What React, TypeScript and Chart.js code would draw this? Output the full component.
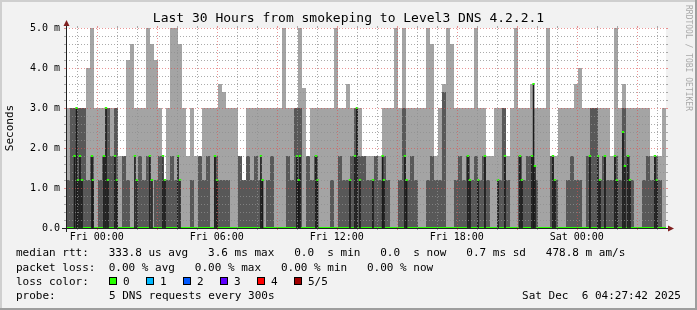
import React, { useEffect, useRef } from "react";
import { Chart, registerables } from "chart.js";
Chart.register(...registerables);

const W = 697;
const H = 310;
// hours relative to Fri 00:00; graph covers Thu 22:27:42 .. Sat 04:27:42
const START_H = -(1 + 32 / 60 + 18 / 3600);
const SPAN_H = 30;
const STEP_H = 0.2; // 12 minutes per smoke column, 150 columns

// max ping (outer smoke top), ms
const smokeMax = [
  3.0, 3.0, 3.0, 3.0, 3.0, 4.0, 5.2, 3.0, 3.0, 3.0,
  3.0, 3.0, 3.0, 1.8, 1.8, 4.2, 4.6, 3.0, 3.0, 3.0,
  5.2, 4.6, 4.2, 3.0, 1.2, 3.0, 5.2, 5.2, 4.6, 3.0,
  1.8, 3.0, 1.8, 1.8, 3.0, 3.0, 3.0, 3.0, 3.6, 3.4,
  3.0, 3.0, 3.0, 1.8, 1.2, 3.0, 3.0, 3.0, 3.0, 3.0,
  3.0, 3.0, 3.0, 3.0, 5.2, 3.0, 3.0, 3.0, 5.2, 3.5,
  1.8, 3.0, 3.0, 3.0, 3.0, 3.0, 3.0, 5.2, 3.0, 3.0,
  3.6, 3.0, 3.0, 3.0, 1.8, 1.8, 1.8, 1.8, 1.8, 3.0,
  3.0, 3.0, 5.2, 3.0, 5.2, 3.0, 3.0, 3.0, 3.0, 3.0,
  5.2, 4.6, 1.8, 3.0, 3.6, 5.2, 4.6, 3.0, 3.0, 3.0,
  3.0, 3.0, 5.2, 3.0, 3.0, 1.8, 1.8, 3.0, 3.0, 3.0,
  1.8, 3.0, 5.2, 3.0, 3.0, 3.0, 3.6, 3.0, 3.0, 3.0,
  5.2, 1.8, 1.8, 3.0, 3.0, 3.0, 3.0, 3.6, 4.0, 3.0,
  3.0, 3.0, 3.0, 3.0, 3.0, 3.0, 1.8, 5.2, 3.0, 3.6,
  3.0, 3.0, 3.0, 3.0, 3.0, 3.0, 1.8, 1.8, 1.8, 3.0,
];
// 4th ping (inner smoke top), ms
const smokeUpper = [
  1.2, 3.0, 3.0, 3.0, 3.0, 1.2, 1.8, 0.0, 1.2, 1.8,
  3.0, 1.8, 3.0, 0.0, 1.8, 1.2, 0.0, 0.0, 1.8, 1.2,
  1.8, 0.0, 1.2, 1.8, 1.2, 1.2, 1.8, 1.2, 0.0, 0.0,
  0.0, 1.2, 0.0, 1.8, 1.2, 1.8, 0.0, 1.8, 1.2, 1.2,
  1.2, 0.0, 0.0, 1.8, 1.2, 1.8, 1.2, 1.8, 1.2, 0.0,
  1.2, 1.8, 0.0, 0.0, 0.0, 1.8, 1.2, 3.0, 3.0, 0.0,
  1.8, 1.2, 1.8, 0.0, 0.0, 0.0, 1.2, 0.0, 1.8, 1.2,
  1.2, 1.8, 3.0, 1.8, 1.8, 1.2, 1.2, 1.8, 1.2, 1.8,
  1.2, 0.0, 0.0, 1.2, 3.0, 1.2, 1.8, 1.2, 0.0, 0.0,
  1.2, 1.8, 1.2, 1.2, 3.4, 0.0, 0.0, 1.2, 1.8, 1.2,
  1.8, 1.2, 1.8, 1.2, 1.8, 1.2, 0.0, 0.0, 1.2, 3.0,
  1.2, 0.0, 0.0, 1.8, 1.2, 1.8, 1.8, 1.2, 0.0, 0.0,
  0.0, 1.8, 1.2, 0.0, 0.0, 1.2, 1.8, 1.2, 1.2, 0.0,
  1.8, 3.0, 3.0, 1.2, 1.8, 1.2, 1.2, 1.8, 1.2, 3.0,
  1.8, 1.2, 0.0, 0.0, 1.2, 1.8, 1.2, 1.8, 1.2, 0.0,
];
// non-zero median readings: time (hours from Fri 00:00) and median (ms); median is 0 otherwise
const medianTimes = [
  -1.11, -1.01, -0.94, -0.84, -0.74, -0.24, -0.19, 0.36, 0.46, 0.56,
  0.91, 1.01, 1.91, 2.01, 2.66, 2.76, 3.31, 3.41, 4.06, 4.16,
  5.91, 6.01, 8.21, 8.29, 10.01, 10.09, 10.16, 10.96, 11.04, 12.66,
  12.91, 13.01, 13.16, 13.81, 14.29, 14.36, 15.41, 15.49, 18.56, 18.66,
  19.06, 19.41, 20.06, 20.41, 21.16, 21.26, 21.76, 21.84, 21.91, 22.81,
  22.91, 24.66, 25.06, 25.16, 25.41, 25.91, 26.01, 26.31, 26.41, 26.56,
  26.66, 27.91, 28.01,
];
const medianValues = [
  1.8, 3.0, 1.2, 1.8, 1.2, 1.8, 1.2, 1.8, 3.0, 1.2,
  1.8, 1.2, 1.8, 1.2, 1.8, 1.2, 1.8, 1.2, 1.8, 1.2,
  1.8, 1.2, 1.8, 1.2, 1.8, 1.2, 1.8, 1.8, 1.2, 1.2,
  1.8, 3.0, 1.2, 1.2, 1.8, 1.2, 1.8, 1.2, 1.8, 1.2,
  1.2, 1.8, 1.2, 1.8, 1.8, 1.2, 1.8, 3.6, 1.55, 1.8,
  1.2, 1.8, 1.8, 1.2, 1.8, 1.8, 1.2, 2.4, 1.55, 1.8,
  1.2, 1.8, 1.2,
];
const medianZero = [0, 0]; // median at window start and end

const yTickValues = [0, 1, 2, 3, 4, 5];
const yTickLabels = ["0.0", "1.0 m", "2.0 m", "3.0 m", "4.0 m", "5.0 m"];
const xTickHours = [0, 6, 12, 18, 24];
const xTickLabels = ["Fri 00:00", "Fri 06:00", "Fri 12:00", "Fri 18:00", "Sat 00:00"];

const titleText = "Last 30 Hours from smokeping to Level3 DNS 4.2.2.1";
const legendMedian = "median rtt:   333.8 us avg   3.6 ms max   0.0  s min   0.0  s now   0.7 ms sd   478.8 m am/s";
const legendLoss = "packet loss:  0.00 % avg   0.00 % max   0.00 % min   0.00 % now";
const lossLabels = ["0", "1", "2", "3", "4", "5/5"];
const lossColors = ["#26ff00", "#00b8ff", "#0059ff", "#5e00ff", "#ff0000", "#a00000"];
const probeText = "5 DNS requests every 300s";
const stampText = "Sat Dec  6 04:27:42 2025";

const MONO = "'DejaVu Sans Mono', monospace";

const rrdPlugin = {
  id: "rrdFrame",
  beforeDraw(chart: any) {
    const { ctx, chartArea: a } = chart;
    ctx.save();
    ctx.fillStyle = "#f2f2f2";
    ctx.fillRect(0, 0, W, H);
    ctx.fillStyle = "#cfcfcf";
    ctx.fillRect(0, 0, W, 2);
    ctx.fillRect(0, 0, 2, H);
    ctx.fillStyle = "#9e9e9e";
    ctx.fillRect(0, H - 2, W, 2);
    ctx.fillRect(W - 2, 0, 2, H);
    ctx.fillStyle = "#ffffff";
    ctx.fillRect(a.left, a.top, a.right - a.left, a.bottom - a.top);
    ctx.restore();
  },
  afterDatasetsDraw(chart: any) {
    const { ctx, chartArea: a, scales } = chart;
    const xs = scales.x;
    const ys = scales.y;
    const minor = "rgba(143,143,143,0.75)";
    const major = "rgba(222,79,79,0.6)";
    ctx.save();
    ctx.lineWidth = 1;
    const vline = (px: number, col: string) => {
      const x = Math.round(px) + 0.5;
      ctx.strokeStyle = col;
      ctx.setLineDash([]);
      ctx.beginPath();
      ctx.moveTo(x, a.top - 2);
      ctx.lineTo(x, a.top);
      ctx.moveTo(x, a.bottom);
      ctx.lineTo(x, a.bottom + 2);
      ctx.stroke();
      ctx.setLineDash([1, 2]);
      ctx.beginPath();
      ctx.moveTo(x, a.bottom);
      ctx.lineTo(x, a.top);
      ctx.stroke();
    };
    const hline = (py: number, col: string) => {
      const y = Math.round(py) + 0.5;
      ctx.strokeStyle = col;
      ctx.setLineDash([]);
      ctx.beginPath();
      ctx.moveTo(a.left - 2, y);
      ctx.lineTo(a.left, y);
      ctx.moveTo(a.right, y);
      ctx.lineTo(a.right + 2, y);
      ctx.stroke();
      ctx.setLineDash([1, 2]);
      ctx.beginPath();
      ctx.moveTo(a.left, y);
      ctx.lineTo(a.right, y);
      ctx.stroke();
    };
    for (let h = Math.ceil(START_H); h <= START_H + SPAN_H; h++) {
      vline(xs.getPixelForValue(h), h % 3 === 0 ? major : minor);
    }
    for (let k = 1; k <= 25; k++) {
      const v = k * 0.2;
      hline(ys.getPixelForValue(v), k % 5 === 0 ? major : minor);
    }
    // axes
    ctx.setLineDash([]);
    ctx.strokeStyle = "#1f1f1f";
    ctx.beginPath();
    ctx.moveTo(a.left - 4, a.bottom + 0.5);
    ctx.lineTo(a.right + 4, a.bottom + 0.5);
    ctx.moveTo(a.left + 0.5, a.bottom + 4);
    ctx.lineTo(a.left + 0.5, a.top - 4);
    ctx.stroke();
    ctx.fillStyle = "#801f1f";
    ctx.beginPath();
    ctx.moveTo(a.right + 2, a.bottom - 2.5);
    ctx.lineTo(a.right + 2, a.bottom + 3.5);
    ctx.lineTo(a.right + 8, a.bottom + 0.5);
    ctx.closePath();
    ctx.fill();
    ctx.beginPath();
    ctx.moveTo(a.left - 2.5, a.top - 2);
    ctx.lineTo(a.left + 3.5, a.top - 2);
    ctx.lineTo(a.left + 0.5, a.top - 8);
    ctx.closePath();
    ctx.fill();
    ctx.restore();
  },
};

function Txt(props: { x: number; y: number; text: string; right?: boolean }) {
  const style: any = {
    position: "absolute",
    top: props.y,
    whiteSpace: "pre",
    font: `11px ${MONO}`,
    lineHeight: "13px",
    color: "#000",
  };
  if (props.right) style.right = W - props.x;
  else style.left = props.x;
  return <div style={style}>{props.text}</div>;
}

export default function App() {
  const ref = useRef<HTMLCanvasElement | null>(null);
  useEffect(() => {
    const cols = smokeMax.map((_, i) => START_H + (i + 0.5) * STEP_H);
    const barBase = {
      type: "bar",
      grouped: false,
      barPercentage: 1,
      categoryPercentage: 1,
      inflateAmount: 0,
      borderWidth: 0,
      xAxisID: "x",
    };
    const chart = new Chart(ref.current as HTMLCanvasElement, {
      type: "bar",
      data: {
        datasets: [
          {
            ...barBase,
            label: "outer smoke",
            data: cols.map((x, i) => ({ x, y: smokeMax[i] })),
            backgroundColor: "#a4a4a4",
            order: 5,
          } as any,
          {
            ...barBase,
            label: "inner smoke",
            data: cols.map((x, i) => ({ x, y: smokeUpper[i] > 0 ? smokeUpper[i] : null })),
            backgroundColor: "#585858",
            order: 4,
          } as any,
          {
            type: "line",
            label: "median 0",
            xAxisID: "x",
            data: [
              { x: START_H, y: medianZero[0] },
              { x: START_H + SPAN_H, y: medianZero[1] },
            ],
            borderColor: "#26ff00",
            borderWidth: 2,
            pointRadius: 0,
            order: 3,
          } as any,
          {
            type: "bar",
            label: "median",
            xAxisID: "xm",
            data: medianTimes.map((x, i) => ({ x, y: medianValues[i] })),
            backgroundColor: "#1a1a1a",
            grouped: false,
            barThickness: 1.6,
            inflateAmount: 0,
            borderWidth: 0,
            order: 2,
          } as any,
          {
            type: "line",
            label: "median loss 0",
            xAxisID: "xm",
            data: medianTimes.map((x, i) => ({ x, y: medianValues[i] })),
            showLine: false,
            pointStyle: "line",
            pointRadius: 1.2,
            pointBorderColor: "#26ff00",
            pointBorderWidth: 2,
            pointBackgroundColor: "#26ff00",
            order: 1,
          } as any,
        ],
      },
      options: {
        responsive: false,
        animation: false,
        events: [],
        layout: { padding: { left: 0, right: 0, top: 0, bottom: 62 } },
        plugins: {
          legend: { display: false },
          tooltip: { enabled: false },
          title: {
            display: true,
            text: titleText,
            color: "#000",
            font: { family: MONO, size: 13, weight: "normal", lineHeight: 1.2 },
            padding: { top: 11, bottom: 1.4 },
          },
        },
        scales: {
          x: {
            type: "linear",
            min: START_H,
            max: START_H + SPAN_H,
            offset: false,
            grid: { display: false, drawTicks: false },
            border: { display: false },
            afterBuildTicks: (s: any) => {
              s.ticks = xTickHours.map((v) => ({ value: v }));
            },
            afterFit: (s: any) => {
              s.height = 20;
            },
            ticks: {
              autoSkip: false,
              maxRotation: 0,
              padding: 3,
              color: "#000",
              font: { family: MONO, size: 10 },
              callback: (v: any) => xTickLabels[xTickHours.indexOf(Number(v))] ?? "",
            },
          },
          xm: {
            type: "linear",
            min: START_H,
            max: START_H + SPAN_H,
            offset: false,
            display: false,
          },
          y: {
            type: "linear",
            position: "left",
            min: 0,
            max: 5,
            grid: { display: false, drawTicks: false },
            border: { display: false },
            afterBuildTicks: (s: any) => {
              s.ticks = yTickValues.map((v) => ({ value: v }));
            },
            afterFit: (s: any) => {
              s.width = 66;
            },
            title: {
              display: true,
              text: "Seconds",
              color: "#000",
              font: { family: MONO, size: 11 },
              padding: { top: 4, bottom: 0 },
            },
            ticks: {
              padding: 6,
              color: "#000",
              font: { family: MONO, size: 10 },
              callback: (v: any) => yTickLabels[yTickValues.indexOf(Number(v))] ?? "",
            },
          },
          yRight: {
            type: "linear",
            position: "right",
            min: 0,
            max: 5,
            grid: { display: false, drawTicks: false },
            border: { display: false },
            ticks: { display: false },
            afterFit: (s: any) => {
              s.width = 31;
            },
          },
        },
      } as any,
      plugins: [rrdPlugin],
    });
    return () => chart.destroy();
  }, []);

  const rowY = [246, 261, 275, 289];
  return (
    <div style={{ position: "absolute", left: 0, top: 0, width: W, height: H, overflow: "hidden" }}>
      <canvas ref={ref} width={W} height={H} style={{ position: "absolute", left: 0, top: 0, width: W, height: H }} />
      <div
        style={{
          position: "absolute",
          left: 683,
          top: 5,
          writingMode: "vertical-rl",
          font: `8px ${MONO}`,
          lineHeight: "11px",
          color: "#a9a9a9",
          whiteSpace: "pre",
        }}
      >
        RRDTOOL / TOBI OETIKER
      </div>
      <Txt x={16} y={rowY[0]} text={legendMedian} />
      <Txt x={16} y={rowY[1]} text={legendLoss} />
      <Txt x={16} y={rowY[2]} text="loss color:" />
      {lossLabels.map((lab, i) => (
        <React.Fragment key={lab}>
          <div
            style={{
              position: "absolute",
              left: 109 + i * 37,
              top: rowY[2] + 2,
              width: 6,
              height: 6,
              background: lossColors[i],
              border: "1px solid #000",
            }}
          />
          <Txt x={123 + i * 37} y={rowY[2]} text={lab} />
        </React.Fragment>
      ))}
      <Txt x={16} y={rowY[3]} text="probe:" />
      <Txt x={109} y={rowY[3]} text={probeText} />
      <Txt x={681} y={rowY[3]} text={stampText} right />
    </div>
  );
}
